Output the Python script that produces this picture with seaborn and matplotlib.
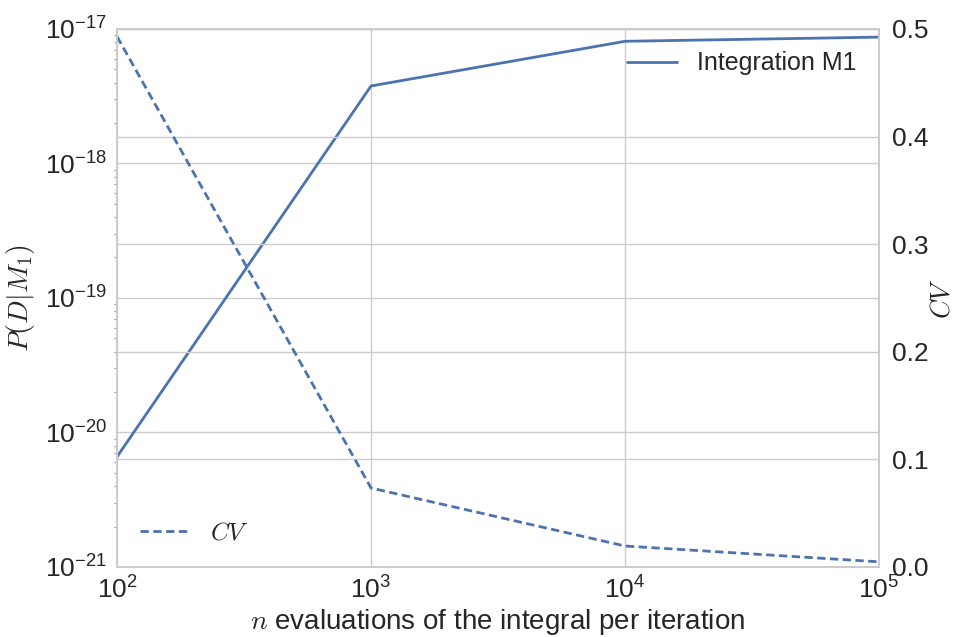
"""
Evidence integration convergence: P(D|M1) and CV vs number of evaluations.
"""

# %% Imports
import numpy as np
import pandas as pd
import seaborn as sns
from matplotlib import pyplot as plt
from matplotlib.ticker import FuncFormatter

# %% Data
n_evals = [1e2, 1e3, 1e4, 1e5]
p_d_m1 = [6.6e-21, 3.77e-18, 8.1e-18, 8.7e-18]
cv = [0.493, 0.0734, 0.0195, 0.0048]

BLUE = "#4C72B0"


def pow10(v, pos):
    return r"$\mathregular{10^{%d}}$" % round(np.log10(v))


# %% Plotting
sns.set_theme(style="whitegrid")
plt.rcParams["font.family"] = ["Liberation Sans", "DejaVu Sans"]
plt.rcParams["mathtext.fontset"] = "cm"
plt.rcParams["axes.unicode_minus"] = False
plt.rcParams["axes.edgecolor"] = ".8"
plt.rcParams["grid.color"] = ".8"

df = pd.DataFrame({"n": n_evals, "p": p_d_m1, "cv": cv})

fig, ax = plt.subplots(figsize=(9.56, 6.37), dpi=100)
sns.lineplot(df, x="n", y="p", color=BLUE, lw=2, label="Integration M1", ax=ax)
ax.set_xscale("log")
ax.set_yscale("log")
ax.set_xlim(1e2, 1e5)
ax.set_ylim(1e-21, 1e-17)
ax.xaxis.set_major_formatter(FuncFormatter(pow10))
ax.yaxis.set_major_formatter(FuncFormatter(pow10))
ax.set_xlabel("$n$ evaluations of the integral per iteration", fontsize=20, labelpad=2)
ax.set_ylabel("$P(D|M_1)$", fontsize=20, labelpad=6)
ax.tick_params(axis="both", which="major", labelsize=19, length=0, pad=7)
ax.tick_params(axis="both", which="minor", length=2, width=0.8, color=".6")
ax.legend(loc="upper right", frameon=False, fontsize=18, borderaxespad=0.5,
          handlelength=2.0)

ax2 = ax.twinx()
sns.lineplot(df, x="n", y="cv", color=BLUE, lw=2, dashes=False, ax=ax2,
             label="$CV$")
ax2.lines[0].set_dashes((3, 1.6))
ax2.set_ylim(0, 0.5)
ax2.set_yticks(np.arange(0, 0.51, 0.1))
ax2.set_xlabel("")
ax2.set_ylabel("$CV$", fontsize=19, labelpad=2)
ax2.tick_params(axis="y", labelsize=19, length=0, pad=9)
ax2.legend(loc="lower left", frameon=False, fontsize=18, borderaxespad=0.5,
           handlelength=2.0)
for spine in ax2.spines.values():
    spine.set_color(".8")

fig.subplots_adjust(left=0.1224, right=0.9195, top=0.9545, bottom=0.1099)
fig.savefig("out.png", dpi=100)
